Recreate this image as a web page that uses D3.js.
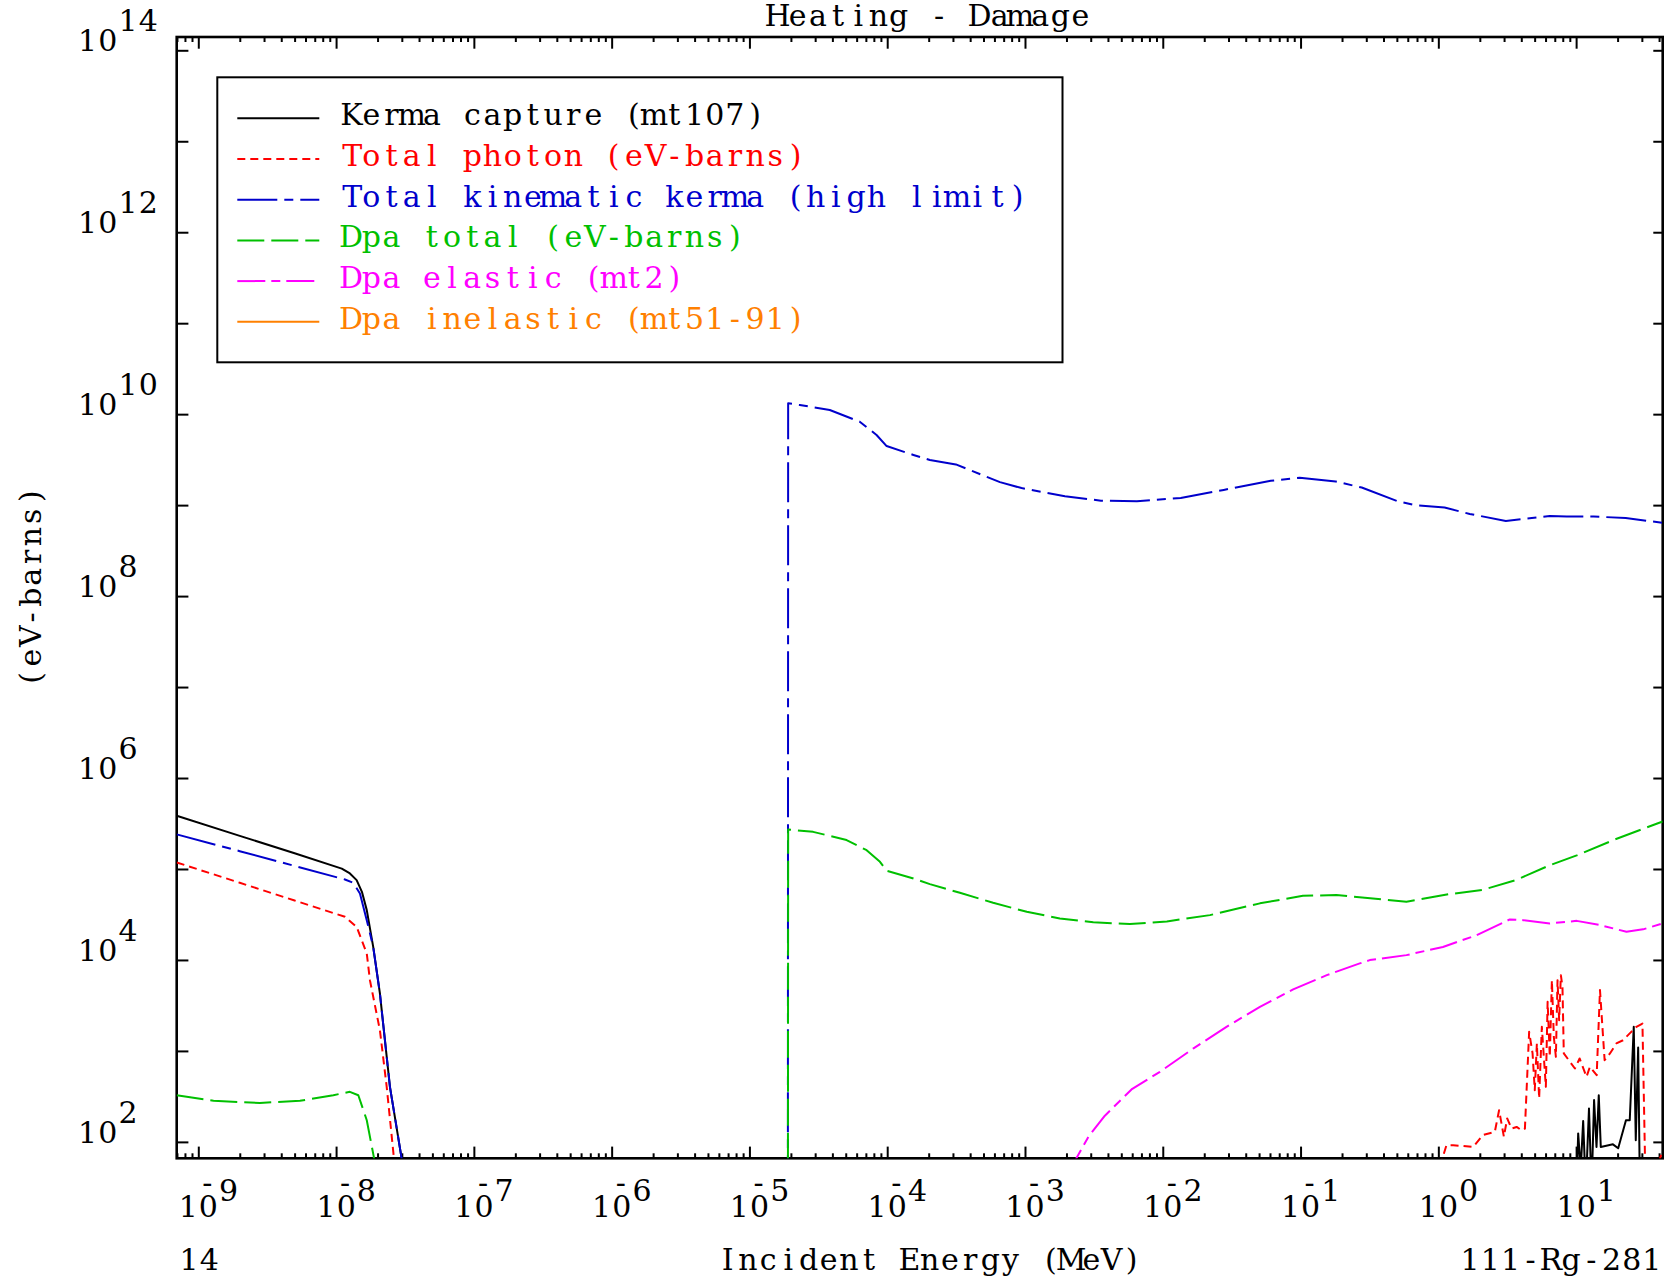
<!DOCTYPE html>
<html><head><meta charset="utf-8">
<script src="https://cdn.jsdelivr.net/npm/d3@7"></script>
<style>
body{margin:0;background:#fff}
text{font-family:"DejaVu Serif","Liberation Serif",serif;font-size:30px;white-space:pre;}
</style>
</head><body>
<svg id="c" width="1667" height="1281"></svg>
<script>
// ---------- data (energies in MeV, values in eV-barns) ----------
const seriesNames = ["Kerma capture (mt107)","Total photon (eV-barns)","Total kinematic kerma (high limit)","Dpa total (eV-barns)","Dpa elastic (mt2)","Dpa inelastic (mt51-91)"];
const seriesColors = ["#000000","#ff0000","#0000cc","#00c000","#ff00ff","#ff8000"];
const xDomain = [6.97e-10, 42.5];
const yDomain = [66, 1.40e14];
const xLabelExps = [-9,-8,-7,-6,-5,-4,-3,-2,-1,0,1];
const yLabelExps = [2,4,6,8,10,12,14];
const titleText = "Heating - Damage";
const xTitle = "Incident Energy (MeV)";
const yTitle = "(eV-barns)";
const leftNote = "14";
const rightNote = "111-Rg-281";

const kermaCapture = [
 [6.97e-10,3.85e5],[2e-9,2.31e5],[5e-9,1.49e5],[1.1e-8,1.01e5],[1.26e-8,8.93e4],[1.41e-8,7.55e4],
 [1.54e-8,5.61e4],[1.67e-8,3.53e4],[1.86e-8,1.39e4],[2.08e-8,4280],[2.46e-8,403],[2.99e-8,66],[3.44e-8,20],[3.6e-8,1],
 [9.9,1],[10.07,30],[10.35,124],[10.8,50],[11.25,170],[11.75,30],[12.4,233],[12.95,30],[13.5,288],[14.06,88],
 [14.6,326],[15.1,88],[18.5,94],[20.2,85],[23.0,173],[24.5,173],[26.2,1840],[27.1,104],[28.2,1090],[29.3,10],[30,1]
];
const totalPhoton = [
 [6.97e-10,1.18e5],[2e-9,7.05e4],[5e-9,4.5e4],[1.16e-8,2.98e4],[1.41e-8,2.31e4],[1.67e-8,1.18e4],[1.76e-8,6000],
 [2.08e-8,1690],[2.33e-8,403],[2.63e-8,66],[3.0e-8,10],[3.2e-8,1],
 [0.95,1],[1.01,50],[1.146,92],[1.28,92],[1.51,90],[1.79,88],[2.11,119],[2.57,129],[2.76,223],[2.99,114],[3.16,181],
 [3.40,140],[3.70,146],[4.02,134],[4.25,140],[4.56,1620],[4.83,938],[5.01,370],[5.19,1208],[5.39,300],[5.64,1840],
 [5.83,861],[6.03,403],[6.21,3470],[6.44,861],[6.67,6000],[6.89,1430],[7.13,861],[7.33,6000],[7.53,2180],[7.75,6800],
 [7.96,5060],[8.14,938],[9.80,641],[10.6,826],[11.9,519],[12.6,670],[14.1,542],[14.9,4660],[16.1,791],[17.6,938],
 [19.6,1208],[21.9,1310],[24.5,1560],[27.4,1840],[30.3,2000],[32.1,20],[32.5,1],[39.5,1],[40.6,66],[42.5,80]
];
const totalKinematicKerma = [
 [6.97e-10,2.4e5],[2e-9,1.57e5],[5e-9,1.08e5],[1.16e-8,7.67e4],[1.33e-8,7.05e4],[1.49e-8,5.38e4],[1.67e-8,2.74e4],
 [1.86e-8,1.39e4],[2.08e-8,4280],[2.46e-8,403],[2.99e-8,66],[3.44e-8,20],[3.6e-8,1],
 [1.90e-5,1],[1.91e-5,1.32e10],[2.32e-5,1.26e10],[3.83e-5,1.11e10],[6.32e-5,8.26e9],[8.37e-5,5.9e9],[9.9e-5,4.46e9],
 [1.55e-4,3.56e9],[2.04e-4,3.13e9],[3.15e-4,2.8e9],[6.58e-4,1.79e9],[9.44e-4,1.54e9],[1.95e-3,1.25e9],[3.56e-3,1.12e9],
 [6.49e-3,1.1e9],[1.35e-2,1.2e9],[2.77e-2,1.47e9],[6.08e-2,1.85e9],[9.86e-2,2.0e9],[0.180,1.82e9],[0.278,1.56e9],
 [0.508,1.1e9],[0.685,1.0e9],[1.11,9.4e8],[1.69,8.0e8],[3.09,6.7e8],[4.77,7.2e8],[6.44,7.6e8],[8.55,7.5e8],
 [13.4,7.5e8],[22.9,7.2e8],[42.5,6.4e8]
];
const dpaTotal = [
 [6.97e-10,326],[1.29e-9,283],[2.8e-9,268],[5.47e-9,283],[9.55e-9,326],[1.26e-8,355],[1.45e-8,326],[1.67e-8,173],
 [1.88e-8,68],[2.0e-8,20],[2.1e-8,1],
 [1.90e-5,1],[1.91e-5,2.72e5],[2.9e-5,2.56e5],[5.07e-5,2.08e5],[7.09e-5,1.61e5],[8.86e-5,1.2e5],[9.9e-5,9.55e4],
 [1.55e-4,7.87e4],[2.04e-4,6.82e4],[3.37e-4,5.47e4],[5.87e-4,4.25e4],[1.03e-3,3.38e4],[1.79e-3,2.86e4],[3.13e-3,2.59e4],
 [5.77e-3,2.48e4],[1.07e-2,2.65e4],[2.2e-2,3.11e4],[5.07e-2,4.19e4],[0.104,5.07e4],[0.182,5.17e4],[0.587,4.36e4],
 [1.21,5.3e4],[2.11,5.9e4],[3.69,7.6e4],[6.44,1.1e5],[10.1,1.41e5],[19.1,2.11e5],[42.5,3.33e5]
];
const dpaElastic = [
 [2.2e-3,1],[2.36e-3,66],[2.9e-3,115],[3.8e-3,194],[5.93e-3,377],[9.53e-3,589],[1.66e-2,1060],[2.9e-2,1840],
 [5.07e-2,3050],[8.84e-2,4740],[0.155,6810],[0.269,9160],[0.318,9960],[0.587,1.13e4],[1.08,1.39e4],[1.89,1.87e4],
 [3.30,2.79e4],[4.12,2.74e4],[6.44,2.52e4],[10.1,2.69e4],[14.9,2.42e4],[23.2,2.04e4],[30.6,2.17e4],[42.5,2.52e4]
];
const dpaInelastic = [];
const seriesData = [kermaCapture,totalPhoton,totalKinematicKerma,dpaTotal,dpaElastic,dpaInelastic];
const seriesDash = ["none","8,5","40,7,9,7","27,7","28,6,9,6","none"];

// ---------- drawing ----------
const svg = d3.select("#c");
const L=176.7, R=1662.7, T=37, B=1158.3;
const PITCH = 20.2;
const x = d3.scaleLog().domain(xDomain).range([L,R]);
const y = d3.scaleLog().domain(yDomain).range([B,T]);

svg.append("rect").attr("width",1667).attr("height",1281).attr("fill","#fff");
svg.append("defs").append("clipPath").attr("id","clip")
  .append("rect").attr("x",L).attr("y",T).attr("width",R-L).attr("height",B-T);

// monospaced placement of serif glyphs: one <text>, one glyph per cell
function glyphs(parent, items, fill){
  const t = parent.append("text").attr("fill",fill||"#000").text(items.map(d=>d.c).join(""));
  const node = t.node();
  const xs = items.map((d,i)=>{
    let w = PITCH;
    try { w = node.getSubStringLength(i,1); } catch(e){}
    return (d.x + (PITCH - w)/2).toFixed(2);
  });
  t.attr("x", xs.join(" ")).attr("y", items.map(d=>d.y).join(" "));
  return t;
}
function mono(parent, str, x0, y0, anchor, fill){
  const n = str.length;
  let s = x0;
  if(anchor==="middle") s = x0 - n*PITCH/2;
  if(anchor==="end") s = x0 - n*PITCH;
  return glyphs(parent, str.split("").map((c,i)=>({c, x:s+i*PITCH, y:y0})), fill);
}

// ticks
const xMajor=[], xMinor=[];
for(let d=-10; d<=2; d++){
  for(let k=1;k<=9;k++){
    const v=k*Math.pow(10,d);
    if(v>=xDomain[0] && v<=xDomain[1]) (k===1?xMajor:xMinor).push(v);
  }
}
const yMajor=[];
for(let d=2; d<=14; d++) yMajor.push(Math.pow(10,d));

function axisG(gen, tx, ty){
  const g = svg.append("g").attr("transform",`translate(${tx},${ty})`).call(gen);
  g.select(".domain").remove();
  g.selectAll("line").attr("stroke","#000").attr("stroke-width",2);
  g.selectAll("text").remove();
  return g;
}
axisG(d3.axisBottom(x).tickValues(xMajor).tickSize(-11.7).tickFormat(""),0,B);
axisG(d3.axisBottom(x).tickValues(xMinor).tickSize(-5).tickFormat(""),0,B);
axisG(d3.axisTop(x).tickValues(xMajor).tickSize(-11.7).tickFormat(""),0,T);
axisG(d3.axisTop(x).tickValues(xMinor).tickSize(-5).tickFormat(""),0,T);
axisG(d3.axisLeft(y).tickValues(yMajor).tickSize(-11.7).tickFormat(""),L,0);
axisG(d3.axisRight(y).tickValues(yMajor).tickSize(-9.4).tickFormat(""),R,0);

// frame
svg.append("rect").attr("x",L).attr("y",T).attr("width",R-L).attr("height",B-T)
  .attr("fill","none").attr("stroke","#000").attr("stroke-width",2.6);

// x labels: "10" centred on the tick, exponent one cell right; a minus sits over the "0"
xLabelExps.forEach(e=>{
  const tx = x(Math.pow(10,e));
  const items = [{c:"1",x:tx-PITCH,y:1216.7},{c:"0",x:tx,y:1216.7}];
  if(e<0) items.push({c:"-",x:tx-1,y:1193});
  String(Math.abs(e)).split("").forEach((c,i)=>items.push({c,x:tx+PITCH*(1+i),y:1201}));
  glyphs(svg, items, "#000");
});
// y labels
yLabelExps.forEach(e=>{
  const ty = y(Math.pow(10,e));
  const items = [{c:"1",x:77.5,y:ty+1},{c:"0",x:77.5+PITCH,y:ty+1}];
  String(e).split("").forEach((c,i)=>items.push({c,x:77.5+PITCH*(2+i),y:ty-19}));
  glyphs(svg, items, "#000");
});

// titles
mono(svg, titleText, 929, 26, "middle");
mono(svg, xTitle, 929.7, 1270, "middle");
mono(svg, leftNote, 179, 1270, "start");
mono(svg, rightNote, 1662, 1270, "end");
const yg = svg.append("g").attr("transform","translate(41,587) rotate(-90)");
mono(yg, yTitle, 0, 0, "middle");

// curves
const line = d3.line().x(d=>x(d[0])).y(d=>y(d[1]));
const plot = svg.append("g").attr("clip-path","url(#clip)");
seriesData.forEach((data,i)=>{
  if(!data.length) return;
  plot.append("path").attr("d",line(data)).attr("fill","none")
    .attr("stroke",seriesColors[i]).attr("stroke-width",2)
    .attr("stroke-dasharray",seriesDash[i]).attr("stroke-linejoin","round");
});

// legend
svg.append("rect").attr("x",217.3).attr("y",77.3).attr("width",845.2).attr("height",285)
  .attr("fill","#fff").attr("stroke","#000").attr("stroke-width",2);
seriesNames.forEach((n,i)=>{
  const ly = 118.3 + 40.7*i;
  svg.append("line").attr("x1",237.3).attr("x2",319.3).attr("y1",ly).attr("y2",ly)
    .attr("stroke",seriesColors[i]).attr("stroke-width",2).attr("stroke-dasharray",seriesDash[i]);
  mono(svg, n, 341, ly+7, "start", seriesColors[i]);
});
</script>
</body></html>
